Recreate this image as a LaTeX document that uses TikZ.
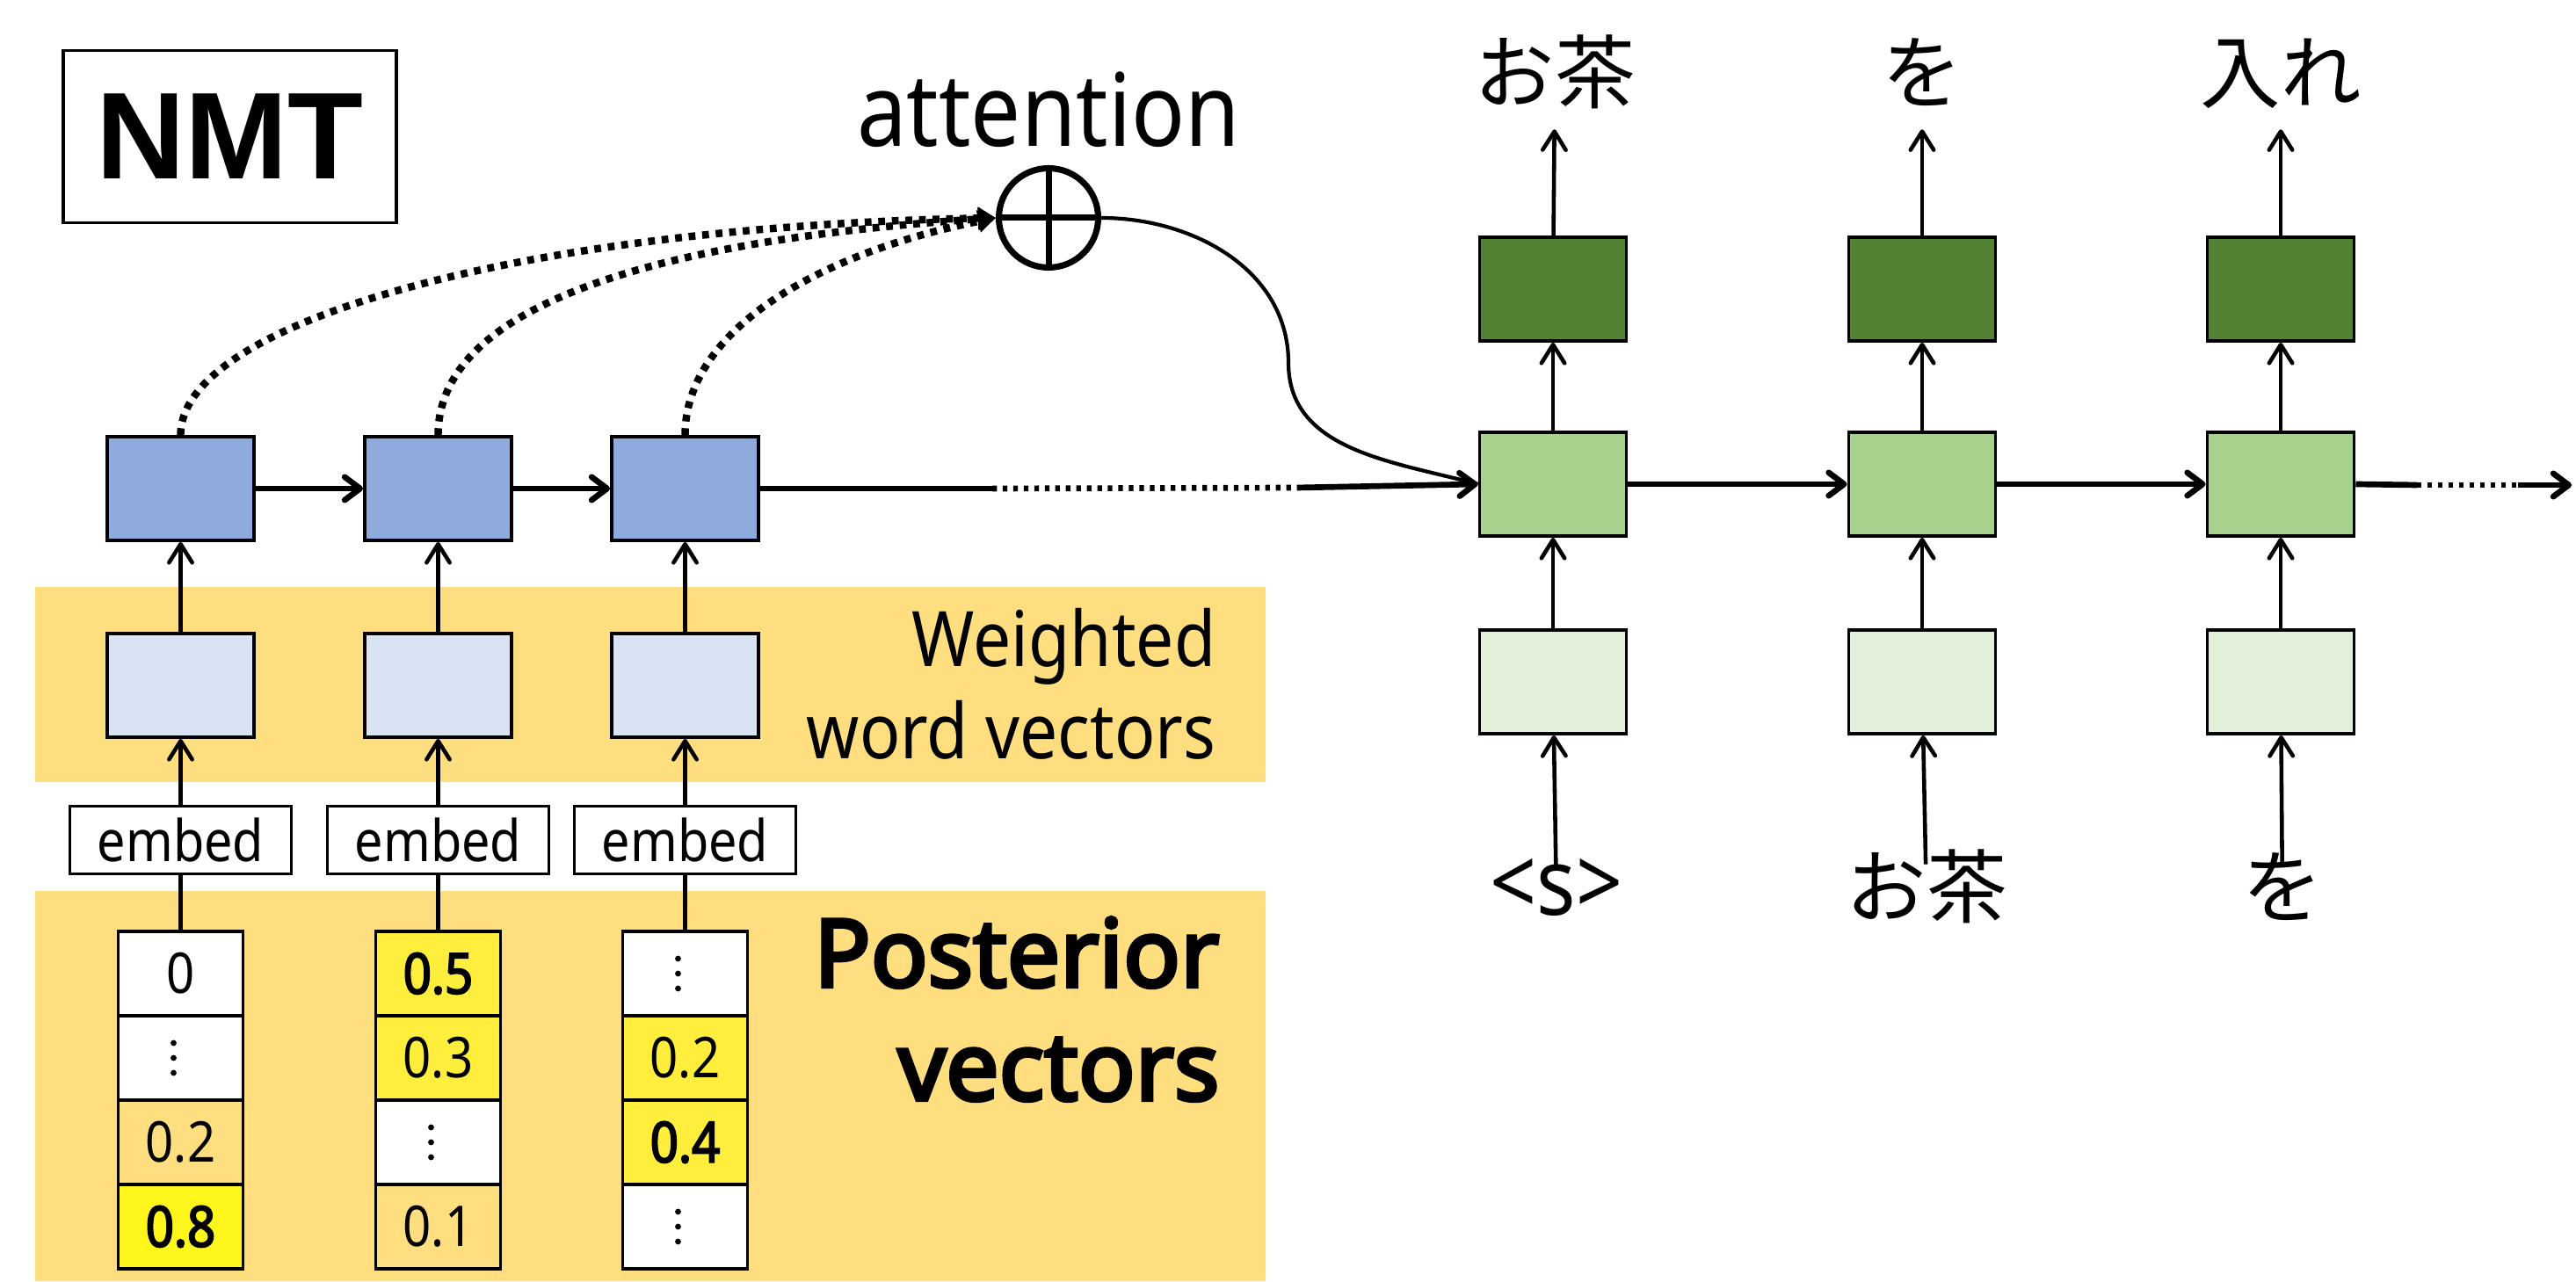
\documentclass[tikz,border=0pt]{standalone}
\usepackage{fontspec}
\setmainfont{Noto Sans}[FakeStretch=0.88, BoldFont={Noto Sans}, BoldFeatures={FakeBold=3}]
\newfontfamily\jpfont{Noto Sans CJK JP}
\newfontfamily\nmtfont{Liberation Sans}
\newfontfamily\postfont{Noto Sans}[FakeBold=4]
\usetikzlibrary{arrows.meta,positioning}

\definecolor{encblue}{HTML}{8FAADC}
\definecolor{wvblue}{HTML}{DAE3F3}
\definecolor{outgreen}{HTML}{548235}
\definecolor{decgreen}{HTML}{A9D18E}
\definecolor{ingreen}{HTML}{E2F0D9}
\definecolor{band}{HTML}{FFDE7F}
\definecolor{hiyellow}{HTML}{FFF71C}
\definecolor{midyellow}{HTML}{FFEF3C}

% three stacked dots for an elided entry
\newcommand{\celldots}[1]{\fill ([xshift=-0.08cm,yshift=0.17cm]#1.center) circle (0.034) ([xshift=-0.08cm]#1.center) circle (0.034) ([xshift=-0.08cm,yshift=-0.17cm]#1.center) circle (0.034);}

\begin{document}
\begin{tikzpicture}[
  hid/.style={draw, line width=1.1pt, minimum width=1.67cm, minimum height=1.18cm, inner sep=0pt},
  embedbox/.style={draw, line width=0.9pt, fill=white, minimum width=2.52cm, minimum height=0.77cm, inner sep=0pt, font=\fontsize{18.6}{20}\selectfont},
  vcell/.style={draw, line width=1.1pt, minimum width=1.42cm, minimum height=0.96cm, inner sep=0pt, font=\fontsize{18.2}{20}\selectfont},
  word/.style={inner sep=0pt, text height=0.88em, text depth=0.12em},
  uparrow/.style={line width=1.3pt, -{Straight Barb[length=6pt,width=7.5pt,round]}},
  fwd/.style={line width=1.9pt, -{Straight Barb[length=5pt,width=7.5pt,round]}},
  attn/.style={line width=2.4pt, dash pattern=on 2.2pt off 2.2pt, -{Triangle[length=5.7pt,width=7pt]}},
  gapline/.style={line width=1.9pt, dash pattern=on 1.5pt off 1.9pt}
]
\useasboundingbox (0,0) rectangle (29.31,14.58);

% yellow bands behind the encoder inputs
\fill[band] (0.40,5.68) rectangle (14.40,7.90);
\fill[band] (0.40,0) rectangle (14.40,4.44);

\node[draw, line width=0.9pt, minimum width=3.79cm, minimum height=1.96cm, font=\nmtfont\bfseries\fontsize{40}{40}\selectfont] (nmt) at (2.615,13.025) {NMT};

\node[anchor=base, inner sep=0pt, font=\fontsize{32.7}{36}\selectfont] (atttext) at (11.93,12.91) {attention};
\node[draw, circle, line width=2pt, minimum size=1.13cm, inner sep=0pt] (sum) at (11.93,12.10) {};
\draw[line width=2pt] (sum.north) -- (sum.south) (sum.west) -- (sum.east);

% encoder
\node[hid, fill=encblue] (enc1) at (2.055,9.02) {};
\node[hid, fill=encblue] (enc2) at (4.985,9.02) {};
\node[hid, fill=encblue] (enc3) at (7.795,9.02) {};

\node[hid, fill=wvblue] (wv1) at (2.055,6.78) {};
\node[hid, fill=wvblue] (wv2) at (4.985,6.78) {};
\node[hid, fill=wvblue] (wv3) at (7.795,6.78) {};

\node[embedbox] (emb1) at (2.055,5.02) {embed};
\node[embedbox] (emb2) at (4.985,5.02) {embed};
\node[embedbox] (emb3) at (7.795,5.02) {embed};

% posterior vectors
\node[vcell, fill=white] (p1a) at (2.055,3.50) {0};
\node[vcell, fill=white] (p1b) at (2.055,2.54) {};
\node[vcell, fill=band] (p1c) at (2.055,1.58) {0.2};
\node[vcell, fill=hiyellow] (p1d) at (2.055,0.62) {\textbf{0.8}};

\node[vcell, fill=midyellow] (p2a) at (4.985,3.50) {\textbf{0.5}};
\node[vcell, fill=midyellow] (p2b) at (4.985,2.54) {0.3};
\node[vcell, fill=white] (p2c) at (4.985,1.58) {};
\node[vcell, fill=band] (p2d) at (4.985,0.62) {0.1};

\node[vcell, fill=white] (p3a) at (7.795,3.50) {};
\node[vcell, fill=midyellow] (p3b) at (7.795,2.54) {0.2};
\node[vcell, fill=midyellow] (p3c) at (7.795,1.58) {\textbf{0.4}};
\node[vcell, fill=white] (p3d) at (7.795,0.62) {};

\celldots{p1b}
\celldots{p2c}
\celldots{p3a}
\celldots{p3d}

\node[anchor=base east, inner sep=0pt, font=\fontsize{24.8}{30}\selectfont] (wwv1) at (13.84,6.99) {Weighted};
\node[anchor=base east, inner sep=0pt, font=\fontsize{24.8}{30}\selectfont] (wwv2) at (13.84,5.94) {word vectors};
\node[anchor=base east, inner sep=0pt, font=\postfont\fontsize{30.5}{36}\selectfont] (pv1) at (13.88,3.35) {Posterior};
\node[anchor=base east, inner sep=0pt, font=\postfont\fontsize{30.5}{36}\selectfont] (pv2) at (13.88,2.06) {vectors};

\draw[line width=1.3pt] (p1a) -- (emb1);
\draw[line width=1.3pt] (p2a) -- (emb2);
\draw[line width=1.3pt] (p3a) -- (emb3);
\draw[uparrow] (emb1) -- (wv1);
\draw[uparrow] (emb2) -- (wv2);
\draw[uparrow] (emb3) -- (wv3);
\draw[uparrow] (wv1) -- (enc1);
\draw[uparrow] (wv2) -- (enc2);
\draw[uparrow] (wv3) -- (enc3);
\draw[fwd] (enc1) -- (enc2);
\draw[fwd] (enc2) -- (enc3);

\draw[attn] (enc1.north) .. controls +(0,1.3) and +(-5.33,-0.1) .. (sum.west);
\draw[attn] (enc2.north) .. controls +(0,1.5) and +(-3.8,-0.25) .. (sum.west);
\draw[attn] (enc3.north) .. controls +(0,1.2) and +(-2.0,-0.4) .. (sum.west);

% decoder
\node[hid, fill=outgreen] (out1) at (17.67,11.29) {};
\node[hid, fill=outgreen] (out2) at (21.87,11.29) {};
\node[hid, fill=outgreen] (out3) at (25.95,11.29) {};

\node[hid, fill=decgreen] (dec1) at (17.67,9.07) {};
\node[hid, fill=decgreen] (dec2) at (21.87,9.07) {};
\node[hid, fill=decgreen] (dec3) at (25.95,9.07) {};

\node[hid, fill=ingreen] (in1) at (17.67,6.82) {};
\node[hid, fill=ingreen] (in2) at (21.87,6.82) {};
\node[hid, fill=ingreen] (in3) at (25.95,6.82) {};

\node[word, font=\jpfont\fontsize{26}{30}\selectfont] (y1) at (17.69,13.55) {お茶};
\node[word, font=\jpfont\fontsize{26}{30}\selectfont] (y2) at (21.87,13.55) {を};
\node[word, font=\jpfont\fontsize{26}{30}\selectfont] (y3) at (25.95,13.55) {入れ};

\node[word, font=\fontsize{30}{32}\selectfont] (x1) at (17.71,4.30) {<s>};
\node[word, font=\jpfont\fontsize{26}{30}\selectfont] (x2) at (21.92,4.28) {お茶};
\node[word, font=\jpfont\fontsize{26}{30}\selectfont] (x3) at (25.97,4.28) {を};

\draw[uparrow, shorten <=7pt] (x1) -- (in1);
\draw[uparrow, shorten <=8pt] (x2) -- (in2);
\draw[uparrow, shorten <=8pt] (x3) -- (in3);
\draw[uparrow] (in1) -- (dec1);
\draw[uparrow] (in2) -- (dec2);
\draw[uparrow] (in3) -- (dec3);
\draw[uparrow] (dec1) -- (out1);
\draw[uparrow] (dec2) -- (out2);
\draw[uparrow] (dec3) -- (out3);
\draw[uparrow, shorten >=7.4pt] (out1) -- (y1);
\draw[uparrow, shorten >=7.4pt] (out2) -- (y2);
\draw[uparrow, shorten >=7.4pt] (out3) -- (y3);

\draw[fwd] (dec1) -- (dec2);
\draw[fwd] (dec2) -- (dec3);

% encoder state handed over to the decoder
\coordinate (gapa) at (11.29,9.02);
\coordinate (gapb) at (14.76,9.03);
\draw[line width=1.9pt] (enc3.east) -- (gapa);
\draw[gapline] (gapa) -- (gapb);
\draw[fwd] (gapb) -- (dec1.west);

% context vector into the first decoder step
\coordinate (bend) at (14.66,10.45);
\draw[line width=1.2pt] (sum.east) to[out=0,in=90] (bend) to[out=270,in=165] (dec1.west);

\coordinate (taila) at (27.50,9.06);
\coordinate (tailb) at (28.65,9.06);
\coordinate (tailc) at (29.26,9.06);
\draw[line width=1.9pt] (dec3.east) -- (taila);
\draw[gapline] (taila) -- (tailb);
\draw[fwd] (tailb) -- (tailc);

\end{tikzpicture}
\end{document}
